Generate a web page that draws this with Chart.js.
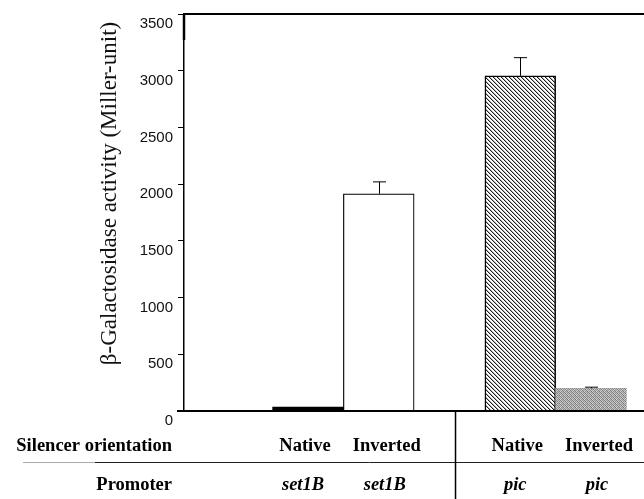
<!DOCTYPE html>
<html>
<head>
<meta charset="utf-8">
<script src="https://cdn.jsdelivr.net/npm/chart.js@4/dist/chart.umd.min.js"></script>
<style>
  html, body { margin: 0; padding: 0; background: #fff; }
  #c { display: block; }
</style>
</head>
<body>
<canvas id="c" width="644" height="499"></canvas>
<script>
// ---- data ----
const orientations = ['Native', 'Inverted', 'Native', 'Inverted'];
const promoters = ['set1B', 'set1B', 'pic', 'pic'];
const activity = [35, 1915, 2955, 200];
const errors = [0, 105, 160, 10];
const yTicks = [0, 500, 1000, 1500, 2000, 2500, 3000, 3500];
const rowHeaders = ['Silencer orientation', 'Promoter'];
const yTitle = 'β-Galactosidase activity (Miller-unit)';

// slot index: bar index plus one empty slot between promoter groups
const groups = [...new Set(promoters)];
const slots = promoters.map((p, i) => i + groups.indexOf(p));

// ---- fill styles ----
function makeTile(size, fn) {
  const c = document.createElement('canvas');
  c.width = size; c.height = size;
  const g = c.getContext('2d');
  for (let y = 0; y < size; y++) for (let x = 0; x < size; x++) {
    g.fillStyle = fn(x, y);
    g.fillRect(x, y, 1, 1);
  }
  return g.createPattern(c, 'repeat');
}
const ctx0 = document.getElementById('c').getContext('2d');
const hatch = makeTile(4, (x, y) => {
  const m = ((x - y) % 4 + 4) % 4;
  return m === 0 ? '#1a1a1a' : (m === 1 ? '#b4b4b4' : '#fff');
});
const stippleVals = [
  ['#848484', '#c8c8c8', '#949494', '#b8b8b8'],
  ['#c0c0c0', '#767676', '#d0d0d0', '#8c8c8c'],
  ['#9c9c9c', '#cccccc', '#828282', '#c4c4c4'],
  ['#d4d4d4', '#8e8e8e', '#bcbcbc', '#747474']
];
const stipple = makeTile(4, (x, y) => stippleVals[y][x]);

const fills = ['#000000', '#ffffff', hatch, stipple];
const borders = [0, 1.2, 1.5, 0];

// ---- plugin: frame, error bars, table, y title ----
const deco = {
  id: 'deco',
  afterDatasetsDraw(chart) {
    const { ctx, chartArea: a, scales: { x, y } } = chart;
    const meta = chart.getDatasetMeta(0);
    ctx.save();
    // error bars
    ctx.strokeStyle = '#000';
    ctx.lineWidth = 1;
    meta.data.forEach((bar, i) => {
      if (!errors[i]) return;
      const cx = Math.round(bar.x) + 0.5;
      const top = y.getPixelForValue(activity[i] + errors[i]);
      const base = y.getPixelForValue(activity[i]);
      ctx.beginPath();
      ctx.moveTo(cx, base); ctx.lineTo(cx, top);
      ctx.moveTo(cx - 6.5, top); ctx.lineTo(cx + 6.5, top);
      ctx.stroke();
    });
    // frame: top line and x axis line
    ctx.lineWidth = 2;
    ctx.beginPath();
    ctx.moveTo(a.left, a.top); ctx.lineTo(a.right, a.top);
    ctx.stroke();
    ctx.lineWidth = 1.8;
    ctx.beginPath();
    ctx.moveTo(a.left - 7, a.bottom); ctx.lineTo(a.right, a.bottom);
    ctx.stroke();
    ctx.lineWidth = 2.5;
    ctx.beginPath();
    ctx.moveTo(a.left, a.top); ctx.lineTo(a.left, a.top + 26);
    ctx.stroke();

    // table below
    const row1 = a.bottom + 35;
    const row2 = a.bottom + 74;
    const sep = a.bottom + 51;
    const divX = (x.getPixelForValue(slots[1]) + x.getPixelForValue(slots[2])) / 2 + 6;
    ctx.lineWidth = 1;
    ctx.strokeStyle = '#aaa';
    ctx.beginPath(); ctx.moveTo(23, sep + 0.5); ctx.lineTo(95, sep + 0.5); ctx.stroke();
    ctx.strokeStyle = '#222';
    ctx.beginPath(); ctx.moveTo(95, sep + 0.5); ctx.lineTo(chart.width, sep + 0.5); ctx.stroke();
    ctx.lineWidth = 1.5;
    ctx.strokeStyle = '#000';
    ctx.beginPath(); ctx.moveTo(divX, a.bottom); ctx.lineTo(divX, chart.height); ctx.stroke();

    ctx.fillStyle = '#000';
    ctx.textBaseline = 'middle';
    ctx.textAlign = 'right';
    ctx.font = 'bold 18.5px "Liberation Serif"';
    ctx.fillText(rowHeaders[0], 172, row1);
    ctx.fillText(rowHeaders[1], 172, row2);
    ctx.textAlign = 'center';
    meta.data.forEach((bar, i) => {
      const shift = orientations[i] === 'Native' ? -3 : 8;
      ctx.font = 'bold 18.5px "Liberation Serif"';
      ctx.fillText(orientations[i], bar.x + shift, row1);
      ctx.font = 'italic bold 18.5px "Liberation Serif"';
      ctx.fillText(promoters[i], bar.x + shift - 2, row2);
    });

    // y axis title
    ctx.translate(110, (a.top + a.bottom) / 2 - 19);
    ctx.rotate(-Math.PI / 2);
    ctx.font = '23px "Liberation Serif"';
    ctx.fillStyle = '#111';
    ctx.fillText(yTitle, 0, 0);
    ctx.restore();
  }
};

new Chart(ctx0, {
  type: 'bar',
  data: {
    datasets: [{
      data: activity.map((v, i) => ({ x: slots[i], y: v })),
      backgroundColor: fills,
      borderColor: '#000',
      borderWidth: borders,
      categoryPercentage: 1,
      barPercentage: 1
    }]
  },
  options: {
    responsive: false,
    animation: false,
    events: [],
    layout: { padding: { top: 13, bottom: 88, left: 0, right: 0 } },
    plugins: { legend: { display: false }, tooltip: { enabled: false } },
    scales: {
      x: {
        type: 'linear',
        display: false,
        offset: false,
        min: -1.753,
        max: 4.749,
        afterBuildTicks(s) { s.ticks = slots.map(v => ({ value: v })); }
      },
      y: {
        min: 0,
        max: 3500,
        afterFit(s) { s.width = 184; },
        afterBuildTicks(s) { s.ticks = yTicks.map(v => ({ value: v })); },
        border: { display: true, color: '#000', width: 1.5 },
        grid: { display: true, drawOnChartArea: false, drawTicks: true, tickLength: 6, color: '#000', lineWidth: 1 },
        ticks: {
          padding: 5,
          labelOffset: 10,
          color: '#111',
          font: { family: '"Liberation Sans"', size: 15 },
          callback: v => String(v)
        }
      }
    }
  },
  plugins: [deco]
});
</script>
</body>
</html>
